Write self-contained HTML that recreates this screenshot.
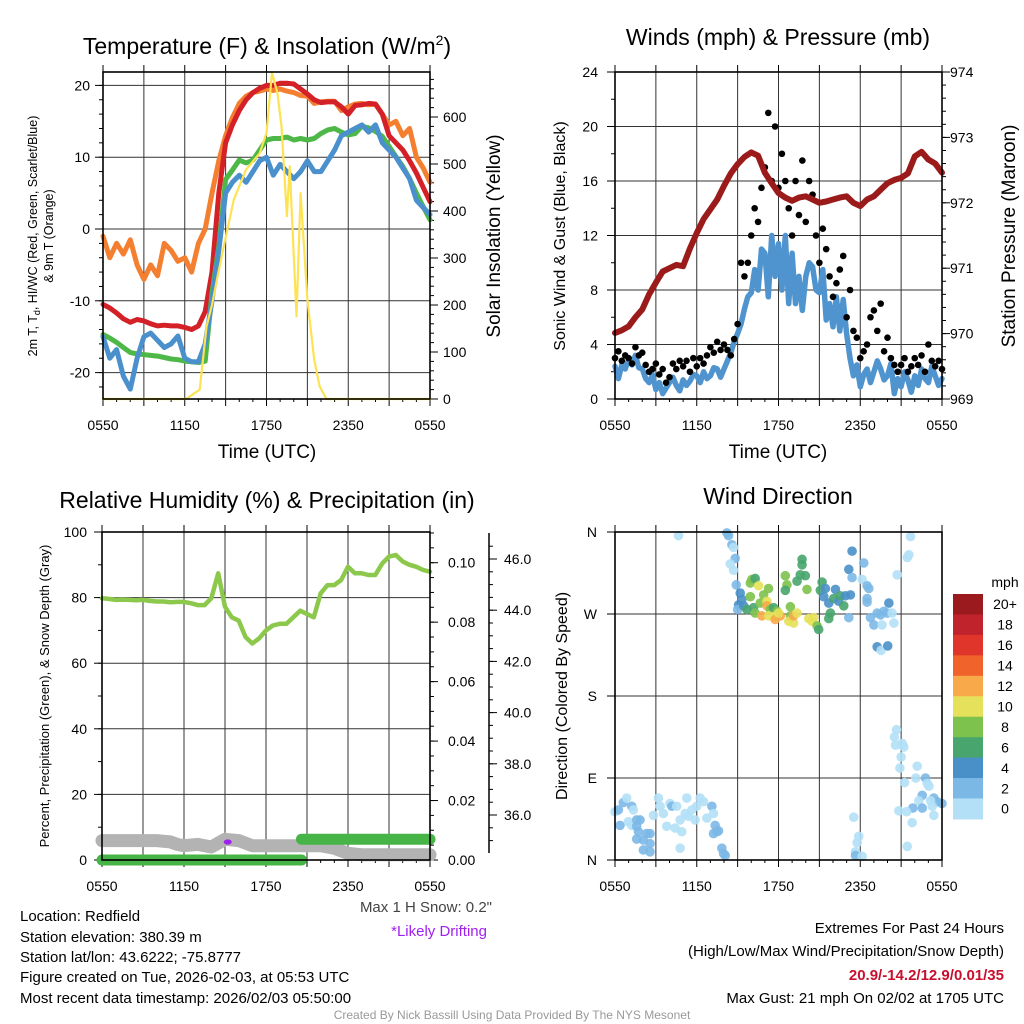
<!DOCTYPE html>
<html><head><meta charset="utf-8"><style>
html,body{margin:0;padding:0;background:#fff}
svg{display:block;font-family:"Liberation Sans",Arial,sans-serif}
</style></head><body>
<svg id="fig" width="1024" height="1024" viewBox="0 0 1024 1024" xmlns="http://www.w3.org/2000/svg">
<rect width="1024" height="1024" fill="#fff"/>
<g id="p1"></g>
<g id="p2"></g>
<g id="p3"></g>
<g id="p4"></g>
<g id="cb"></g>

<text x="267" y="54" font-size="23" text-anchor="middle">Temperature (F) &amp; Insolation (W/m<tspan font-size="14" dy="-9">2</tspan><tspan dy="9">)</tspan></text>
<text x="778" y="45" font-size="23" text-anchor="middle">Winds (mph) &amp; Pressure (mb)</text>
<text x="267" y="508" font-size="23" text-anchor="middle">Relative Humidity (%) &amp; Precipitation (in)</text>
<text x="778" y="504" font-size="23" text-anchor="middle">Wind Direction</text>

<text transform="translate(37,236) rotate(-90)" font-size="12.5" text-anchor="middle">2m T, T<tspan font-size="9" dy="3">d</tspan><tspan dy="-3">, HI/WC (Red, Green, Scarlet/Blue)</tspan></text>
<text transform="translate(53,236) rotate(-90)" font-size="12.5" text-anchor="middle">&amp; 9m T (Orange)</text>
<text transform="translate(500,236) rotate(-90)" font-size="19" text-anchor="middle">Solar Insolation (Yellow)</text>
<text x="267" y="458" font-size="19" text-anchor="middle">Time (UTC)</text>
<text transform="translate(565,236) rotate(-90)" font-size="16" text-anchor="middle">Sonic Wind &amp; Gust (Blue, Black)</text>
<text transform="translate(1015,236) rotate(-90)" font-size="19" text-anchor="middle">Station Pressure (Maroon)</text>
<text x="778" y="458" font-size="19" text-anchor="middle">Time (UTC)</text>
<text transform="translate(49,696) rotate(-90)" font-size="13" text-anchor="middle">Percent, Precipitation (Green), &amp; Snow Depth (Gray)</text>
<text transform="translate(567,696) rotate(-90)" font-size="16" text-anchor="middle">Direction (Colored By Speed)</text>

<g font-size="15">
<text x="20" y="921">Location: Redfield</text>
<text x="20" y="942">Station elevation: 380.39 m</text>
<text x="20" y="962">Station lat/lon: 43.6222; -75.8777</text>
<text x="20" y="982">Figure created on Tue, 2026-02-03, at 05:53 UTC</text>
<text x="20" y="1003">Most recent data timestamp: 2026/02/03 05:50:00</text>
</g>
<text x="492" y="912" font-size="15" text-anchor="end" fill="#444">Max 1 H Snow: 0.2"</text>
<text x="487" y="936" font-size="15" text-anchor="end" fill="#a020f0">*Likely Drifting</text>
<g font-size="15" text-anchor="end">
<text x="1004" y="933">Extremes For Past 24 Hours</text>
<text x="1004" y="956">(High/Low/Max Wind/Precipitation/Snow Depth)</text>
<text x="1004" y="980" fill="#c8102e" font-weight="bold">20.9/-14.2/12.9/0.01/35</text>
<text x="1004" y="1003">Max Gust: 21 mph On 02/02 at 1705 UTC</text>
</g>
<text x="512" y="1019" font-size="12" text-anchor="middle" fill="#999">Created By Nick Bassill Using Data Provided By The NYS Mesonet</text>
</svg>
<script>
// ---------- data ----------
const xTickLabels = ["0550","1150","1750","2350","0550"];
const tempRed = [-10.5,-11,-11.7,-12.5,-13,-12.6,-12.8,-13.2,-13.5,-13.4,-13.5,-13.5,-13.7,-14,-13.5,-11.5,-6,5,12,14.5,16.5,18,19,19.6,20,20,20.3,20.3,20.2,19.5,18.8,18,17.6,17.7,17.7,17,16,17.2,17.3,17.5,17.4,16,13,12,11,9.5,7.8,5.8,3.8];
const tempOrange = [-1,-4,-2,-3.5,-1.5,-5,-7,-5,-6.5,-2,-3,-4.5,-4,-6,-2,0,5,9.5,13,15.5,17.5,18.5,19,19.2,19.5,19.3,19.5,19.2,19,18.6,18.5,17.5,17.7,17.8,17.8,16.5,17,17.4,17.5,17.3,17.4,16,14.5,15,13,14,10,8.5,6.5];
const tempGreen = [-14.7,-15.2,-15.8,-16.5,-17.2,-17.4,-17.5,-17.6,-17.7,-17.9,-18.1,-18.2,-18.4,-18.5,-18.6,-18.4,-8.9,-2.4,6.9,8.2,9.6,9.2,9.6,11,12.4,12.6,12.6,12.8,12.4,12.6,12.4,12.6,13.3,13.8,14,13.5,13.1,13.3,14.3,14.1,13.6,12.9,11.5,10.1,8.7,7,5,3.1,1.3];
const tempBlue = [-15,-18,-16.8,-20.5,-22.3,-18,-15,-14.5,-15.5,-16.5,-16,-14.9,-18,-18.5,-18.5,-16,-10,-3,5,6.5,7.5,6.5,8,9.5,10,7.5,9,8,7,8,9.5,8,8,9.5,11,13,13.5,14,14.5,13.5,14.5,12,11,10,8.5,7,4,3,2];
const insolHours = [0,6.1,6.6,7.1,7.6,8.0,8.4,8.9,9.6,10.5,11.5,12.0,12.4,12.8,13.1,13.5,13.7,14.2,14.5,15.0,15.5,15.9,16.4,24];
const insolValues = [0,0,10,20,155,200,260,330,424,488,523,566,694,651,580,389,495,176,438,211,84,27,0,0];
const windSonic = [2.4,1.5,2.5,2.2,2.9,2.5,3.2,2.3,2.2,1.5,1.2,1.8,0.7,1.2,0.4,0.8,1.2,1.6,1.0,0.6,1.4,1.0,1.3,1.8,1.7,1.2,2.0,1.5,1.7,2.3,2.2,1.6,2.2,2.8,3.4,4.2,4.8,5.5,6.6,7.5,7.8,9.5,8,11,10.7,7.5,12,9,11.4,8,12,7,10.7,7,9,6.5,9,10,9.7,8,7.8,9.5,5.8,7,5.3,7.5,5,7.3,4.8,3,1.7,2.5,0.9,1.8,2.2,1.2,2,2.8,2.2,1.4,1.7,2.6,0.4,1.5,0.9,2,1.4,0.5,1.7,1,2.2,1.5,1.2,2.4,1.7,1,1.5];
const windGust = [3,3.5,2.8,3.2,3,2.6,3.8,3.2,3.4,2.5,2,2.2,2.6,1.8,2.2,1.2,1.6,2.6,2.2,2.8,2.4,2.8,2,3,2.4,3,2.6,3.2,3.8,3.4,4.2,3.6,4,3.6,3.2,4.4,5.5,10,9,10,12,14,13,15.5,17,21,16,20,15.5,18,16,14,12,16,13.5,17.5,13,16,15,12,10,12.5,11,9,7.5,8.5,9.5,10.5,6,8,5,4.5,3,3.5,4,6,6.5,5,7,3.5,4.5,3,2.5,2,2.5,3,2,2.4,3,2.5,3.2,2,4,2.8,2.4,2.8,2.2];
const pressure = [970.01,970.05,970.11,970.25,970.37,970.6,970.78,970.95,971.0,971.05,971.03,971.3,971.54,971.75,971.9,972.05,972.26,972.45,972.59,972.7,972.77,972.72,972.46,972.3,972.15,972.08,972.03,972.08,972.1,972.05,972.0,972.02,972.05,972.08,972.1,972.0,971.95,972.05,972.1,972.2,972.3,972.35,972.38,972.45,972.71,972.78,972.66,972.6,972.46];
const rhValues = [79.8,79.6,79.3,79.4,79.3,79.2,79.3,79.0,78.8,78.8,78.6,78.7,78.7,78.3,77.7,77.7,79.8,87.4,77.2,74,73,68,66,67.6,70,71.5,72,72,74,76,75,74,81.3,83.8,83.8,85.4,89.4,87.4,87.4,86.9,86.9,90.4,92.5,93,91,90,89.4,88.4,87.9];
const precipHours = [0,14.6,14.6,24];
const precipValues = [0,0,0.007,0.007];
const snowHours = [0,2,4,5,5.5,6,7,8,9,10,11,12,14,16,17,18,19,21,24];
const snowDepth = [35.0,35.0,35.0,34.95,34.85,34.8,34.85,34.75,35.05,35.0,34.8,34.8,34.8,34.8,34.7,34.5,34.45,34.45,34.45];
const dirHours = [0,0.25,0.61,0.86,1.23,1.35,0.37,0.98,1.23,1.59,1.84,1.59,1.72,1.59,2.08,2.33,2.57,2.57,2.08,2.57,2.82,3.19,3.31,3.55,3.8,4.04,4.17,4.53,4.41,4.9,4.78,4.78,5.15,5.27,5.39,5.64,5.88,6.0,6.25,6.5,6.74,7.11,7.23,7.35,7.48,7.23,7.6,7.84,7.97,8.09,
8.21,8.33,8.58,8.7,8.82,8.46,8.7,8.9,4.66,
9.19,9.31,9.07,9.0,9.44,9.68,9.93,10.05,10.29,10.54,9.93,10.17,10.29,10.66,10.91,11.27,11.15,11.15,11.4,11.64,11.89,10.78,11.27,11.64,11.76,12.13,12.0,12.5,12.62,12.5,12.87,12.87,12.75,13.11,13.11,13.36,13.36,13.6,13.73,13.73,13.97,14.09,14.22,14.46,14.58,14.83,14.95,15.07,15.2,15.32,15.44,15.69,15.81,15.69,16.05,16.18,16.42,16.54,16.79,16.91,17.16,17.28,17.16,17.4,17.4,18.26,18.14,18.5,18.63,18.5,18.5,18.75,19.0,19.24,19.49,19.73,19.98,20.1,20.34,20.47,19.6,19.24,19.53,20.02,20.71,21.57,21.69,21.45,
17.52,17.89,17.77,17.65,17.65,18.14,20.66,20.51,20.59,21.08,21.2,21.0,20.91,21.25,22.18,22.08,22.79,22.92,23.04,22.55,22.3,23.4,23.65,24,23.16,23.28,21.86,22.55,20.83,21.4,21.81,23.4,21.45];
const dirDegrees = [53,55,63,68,59,55,38,42,38,44,44,37,31,23,22,29,29,18,11,9,49,68,59,51,37,62,59,59,35,31,13,44,51,68,48,55,44,59,68,64,46,59,51,38,31,29,32,13,7,5,
359,356,346,343,331,325,318,302,356,
293,286,280,275,279,275,304,308,309,301,289,277,271,282,291,298,284,279,275,277,273,268,268,267,264,268,271,312,302,296,278,268,262,260,268,271,306,313,330,324,312,297,265,262,266,257,253,296,305,289,298,282,271,265,287,297,284,290,279,290,319,291,266,339,310,326,308,301,298,287,283,266,258,271,269,273,271,282,271,260,258,234,230,235,313,335,355,332,
47,26,19,9,5,4,143,135,126,128,124,113,101,85,103,90,90,84,81,71,65,68,64,62,65,59,57,57,54,53,41,49,15];
const dirSpeeds = [1,3,3,1,3,1,3,1,1,3,3,3,3,3,3,3,3,3,3,3,1,1,1,1,1,1,3,1,1,1,1,1,1,1,1,1,1,1,1,1,1,3,1,3,3,3,3,3,3,3,
3,3,3,1,3,1,1,3,1,
5,5,5,3,5,7,9,9,7,11,9,7,9,9,9,9,11,13,9,7,9,13,11,11,13,13,11,9,9,7,9,9,11,11,13,11,7,7,7,7,7,9,11,11,11,9,7,7,7,5,5,5,7,7,7,5,5,7,7,5,5,5,3,5,3,3,1,3,3,3,3,3,3,3,3,3,3,5,1,1,1,5,1,5,1,1,1,1,
1,1,1,1,3,1,1,1,1,1,1,1,1,1,1,1,3,1,1,3,1,3,3,3,1,1,3,3,1,1,1,1,1];
const cbLabels = ["20+","18","16","14","12","10","8","6","4","2","0"];
const cbColors = ["#9b1a1e","#c0232b","#e0352b","#f0632a","#f8a94a","#e6e15a","#7dc24c","#48a56e","#4a90c8","#7cb8e6","#b3e0f7"];
const speedColors = ["#b3e0f7","#7cb8e6","#4a90c8","#48a56e","#7dc24c","#e6e15a","#f8a94a","#f0632a","#e0352b","#c0232b","#9b1a1e"];

// ---------- helpers ----------
const NS="http://www.w3.org/2000/svg";
function mk(parent,tag,attrs){const e=document.createElementNS(NS,tag);for(const k in attrs)e.setAttribute(k,attrs[k]);parent.appendChild(e);return e;}
function halfHours(n,step){const a=[];for(let i=0;i<n;i++)a.push(i*step);return a;}
function linePath(xs,ys,xf,yf){return xs.map((h,i)=>(i?"L":"M")+xf(h).toFixed(1)+","+yf(ys[i]).toFixed(1)).join("");}
function frame(g,P){
  for(let h=3;h<24;h+=3){const l=mk(g,"line",{x1:P.xs(h),x2:P.xs(h),y1:P.y0,y2:P.y1,stroke:"#333","stroke-width":1});
  
  }
  for(let h=0;h<=24;h+=3){const t=mk(g,"line",{x1:P.xs(h),x2:P.xs(h),y1:P.y1,y2:P.y1+7,stroke:"#000","stroke-width":1});
  
  
  const t2=mk(g,"line",{x1:P.xs(h),x2:P.xs(h),y1:P.y0,y2:P.y0-7,stroke:"#000","stroke-width":1});
  
  }
  for(let h=1;h<24;h++){if(h%3){const m=mk(g,"line",{x1:P.xs(h),x2:P.xs(h),y1:P.y1,y2:P.y1+3,stroke:"#000","stroke-width":1});
  
  }}
  xTickLabels.forEach((s,i)=>{const t=mk(g,"text",{x:P.xs(i*6),y:P.y1+31,"font-size":14,"text-anchor":"middle"});t.textContent=s;
  
  });
}
function hgrid(g,P,vals,yf,labels,lx){
  vals.forEach((v,i)=>{const y=yf(v);
    if(y>P.y0+1&&y<P.y1-1){const l=mk(g,"line",{x1:P.x0,x2:P.x1,y1:y,y2:y,stroke:"#333","stroke-width":1});
    
    }
    const tk=mk(g,"line",{x1:P.x0-8,x2:P.x0,y1:y,y2:y,stroke:"#000","stroke-width":1});
    
    
    if(labels){const t=mk(g,"text",{x:lx,y:y+5,"font-size":14,"text-anchor":"end"});t.textContent=labels[i];
    
    }
  });
}
function minorLeft(g,P,from,to,step,yf){for(let v=from;v<=to+1e-9;v+=step){const y=yf(v);if(y<P.y0-0.5||y>P.y1+0.5)continue;const m=mk(g,"line",{x1:P.x0-4,x2:P.x0,y1:y,y2:y,stroke:"#000","stroke-width":1});

}}
function rightAxis(g,P,ax,vals,labels,yf,minFrom,minTo,minStep,lx){
  for(let v=minFrom;v<=minTo+1e-9;v+=minStep){const y=yf(v);if(y<P.y0-0.5||y>P.y1+0.5)continue;const m=mk(g,"line",{x1:ax,x2:ax+4,y1:y,y2:y,stroke:"#000","stroke-width":1});
  
  }
  vals.forEach((v,i)=>{const y=yf(v);const tk=mk(g,"line",{x1:ax,x2:ax+8,y1:y,y2:y,stroke:"#000","stroke-width":1});
  
  
  const t=mk(g,"text",{x:lx,y:y+5,"font-size":14});t.textContent=labels[i];
  
  });
}
function border(g,P){const r=mk(g,"rect",{x:P.x0,y:P.y0,width:P.x1-P.x0,height:P.y1-P.y0,fill:"none",stroke:"#000","stroke-width":1.6});

}
function panel(x0,x1,y0,y1){return {x0,x1,y0,y1,xs:h=>x0+h/24*(x1-x0)};}
function series(g,xs,ys,xf,yf,color,w,name){const p=mk(g,"path",{d:linePath(xs,ys,xf,yf),fill:"none",stroke:color,"stroke-width":w,"stroke-linejoin":"round","stroke-linecap":"round"});

return p;}

// ---------- panel 1 ----------
(function(){
const g=document.getElementById("p1");const P=panel(103,430,72,399);
const yT=t=>229-t*7.18, yI=v=>399-v*0.47;
frame(g,P);
hgrid(g,P,[20,10,0,-10,-20],yT,["20","10","0","-10","-20"],90);
minorLeft(g,P,-22,22,2,yT);
rightAxis(g,P,P.x1,[0,100,200,300,400,500,600],["0","100","200","300","400","500","600"],yI,0,690,20,443);
const hh=halfHours(49,0.5);
series(g,hh,tempOrange,P.xs,yT,"#f47f30",5,"temp-9m-orange-line");
series(g,hh,tempRed,P.xs,yT,"#d42027",5,"temp-2m-red-line");
series(g,hh,tempGreen,P.xs,yT,"#4db848",5,"dewpoint-green-line");
series(g,hh,tempBlue,P.xs,yT,"#4a90cc",5,"windchill-blue-line");
series(g,insolHours,insolValues,P.xs,yI,"#fde353",2.2,"insolation-yellow-line");
border(g,P);
})();

// ---------- panel 2 ----------
(function(){
const g=document.getElementById("p2");const P=panel(615,942,72,399);
const yW=w=>399-w*13.625, yP=p=>399-(p-969)*65.4;
frame(g,P);
hgrid(g,P,[0,4,8,12,16,20,24],yW,["0","4","8","12","16","20","24"],598);
minorLeft(g,P,0,24,2,yW);
rightAxis(g,P,P.x1,[969,970,971,972,973,974],["969","970","971","972","973","974"],yP,969,974,0.2,950);
const qh=halfHours(97,0.25);
series(g,qh,windSonic,P.xs,yW,"#4f94cf",5.5,"sonic-wind-line");
windGust.forEach((v,i)=>{if(!Number.isFinite(v)||qh[i]===undefined)return;const c=mk(g,"circle",{cx:P.xs(qh[i]),cy:yW(v),r:3.3,fill:"#000"});

});
series(g,halfHours(49,0.5),pressure,P.xs,yP,"#9b1b1b",6,"pressure-line");
border(g,P);
})();

// ---------- panel 3 ----------
(function(){
const g=document.getElementById("p3");const P=panel(102,430,532,860);
const yR=r=>860-r*3.28, yPr=p=>860-p*2973, yS=s=>815-(s-36)*25.6;
frame(g,P);
hgrid(g,P,[0,20,40,60,80,100],yR,["0","20","40","60","80","100"],87);
minorLeft(g,P,0,100,10,yR);
rightAxis(g,P,P.x1,[0,0.02,0.04,0.06,0.08,0.1],["0.00","0.02","0.04","0.06","0.08","0.10"],yPr,0,0.11,0.005,448);
const ax=489;const al=mk(g,"line",{x1:ax,x2:ax,y1:533,y2:853,stroke:"#000","stroke-width":1.5});


[36,38,40,42,44,46].forEach(v=>{const y=yS(v);const tk=mk(g,"line",{x1:ax,x2:ax+8,y1:y,y2:y,stroke:"#000"});


const t=mk(g,"text",{x:ax+15,y:y+5,"font-size":14});t.textContent=v.toFixed(1);

});
for(let v=34;v<=46.9;v+=0.5){const y=yS(v);if(y<533||y>853)continue;const m=mk(g,"line",{x1:ax,x2:ax+4,y1:y,y2:y,stroke:"#000"});

}
series(g,snowHours,snowDepth,P.xs,yS,"#b3b3b3",13,"snow-depth-line");
series(g,precipHours.slice(0,2),precipValues.slice(0,2),P.xs,yPr,"#46b446",11,"precip-line-a");
series(g,precipHours.slice(2),precipValues.slice(2),P.xs,yPr,"#46b446",11,"precip-line-b");
series(g,halfHours(49,0.5),rhValues,P.xs,yR,"#8cc84b",4.5,"rh-line");
const pd=mk(g,"ellipse",{cx:P.xs(9.2),cy:842,rx:4,ry:2.6,fill:"#a020f0"});


border(g,P);
})();

// ---------- panel 4 ----------
(function(){
const g=document.getElementById("p4");const P=panel(615,942,532,860);
const yD=d=>860-d/360*328;
frame(g,P);
hgrid(g,P,[0,90,180,270,360],yD,["N","E","S","W","N"],597);
dirHours.forEach((h,i)=>{const d=dirDegrees[i];if(!Number.isFinite(d))return;const c=mk(g,"circle",{cx:P.xs(h),cy:yD(d),r:4.8,fill:speedColors[Math.min(10,Math.floor((dirSpeeds[i]||1)/2))],"fill-opacity":0.9});

});
border(g,P);
})();

// ---------- colorbar ----------
(function(){
const g=document.getElementById("cb");
const h=20.45;
const m=mk(g,"text",{x:1005,y:587,"font-size":14,"text-anchor":"middle"});m.textContent="mph";


cbLabels.forEach((s,i)=>{const r=mk(g,"rect",{x:953,y:594+i*h,width:30,height:h+0.5,fill:cbColors[i]});


const t=mk(g,"text",{x:1005,y:594+i*h+h/2+5,"font-size":14,"text-anchor":"middle"});t.textContent=s;

});
})();
</script>
</body></html>
